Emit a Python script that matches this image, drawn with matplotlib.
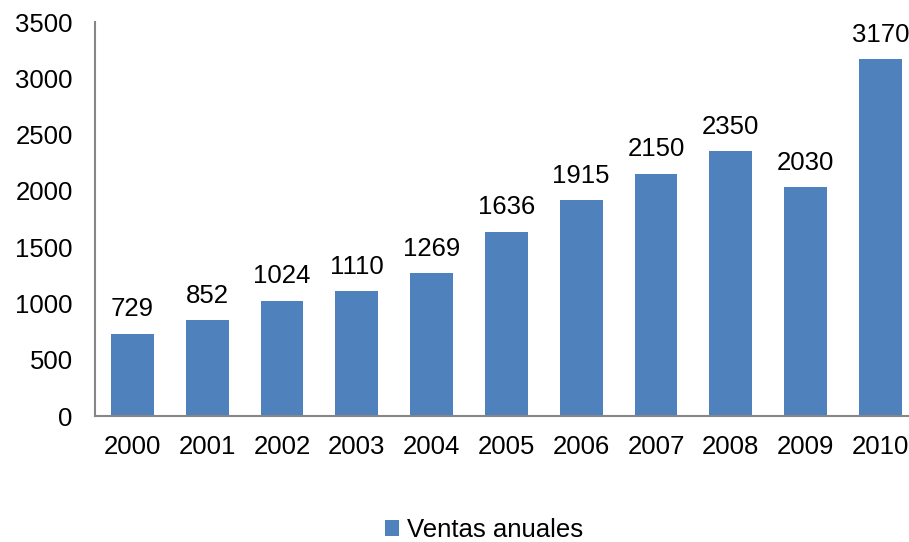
import matplotlib
matplotlib.use("Agg")
import matplotlib.pyplot as plt

years = ["2000", "2001", "2002", "2003", "2004", "2005", "2006", "2007", "2008", "2009", "2010"]
ventas = [729, 852, 1024, 1110, 1269, 1636, 1915, 2150, 2350, 2030, 3170]
series_name = "Ventas anuales"

plt.rcParams['font.family'] = ['Liberation Sans', 'DejaVu Sans']

W, H = 909, 542
fig = plt.figure(figsize=(W/100, H/100), dpi=100)
left, right = 95, 909
bottom, top = 416, 22
ax = fig.add_axes([left/W, 1 - bottom/H, (right-left)/W, (bottom-top)/H])

FS = 18.5
x = list(range(len(years)))
bars = ax.bar(x, ventas, width=0.57, color="#4F81BD", label=series_name, zorder=2)
step = (right - left) / 74.8
ax.set_xlim(-0.5, -0.5 + step)
ax.set_ylim(0, 3500)
ax.set_yticks(range(0, 3501, 500))
ax.set_xticks(x)
ax.set_xticklabels(years)
ax.tick_params(axis='both', length=0, labelsize=FS, colors='black')
ax.tick_params(axis='x', pad=14)
ax.tick_params(axis='y', pad=16)
for s in ['top', 'right']:
    ax.spines[s].set_visible(False)
for s in ['left', 'bottom']:
    ax.spines[s].set_color('#868686')
    ax.spines[s].set_linewidth(1.5)

for xi, v in zip(x, ventas):
    ax.annotate(str(v), (xi, v), xytext=(0, 9), textcoords='offset points',
                ha='center', va='bottom', fontsize=FS)

fig.legend(handles=[bars], labels=[series_name], loc='center',
           bbox_to_anchor=(484/W, 1 - 530/H), frameon=False, fontsize=FS,
           handlelength=0.55, handleheight=0.55, handletextpad=0.3)

fig.savefig("out.png", dpi=100)
